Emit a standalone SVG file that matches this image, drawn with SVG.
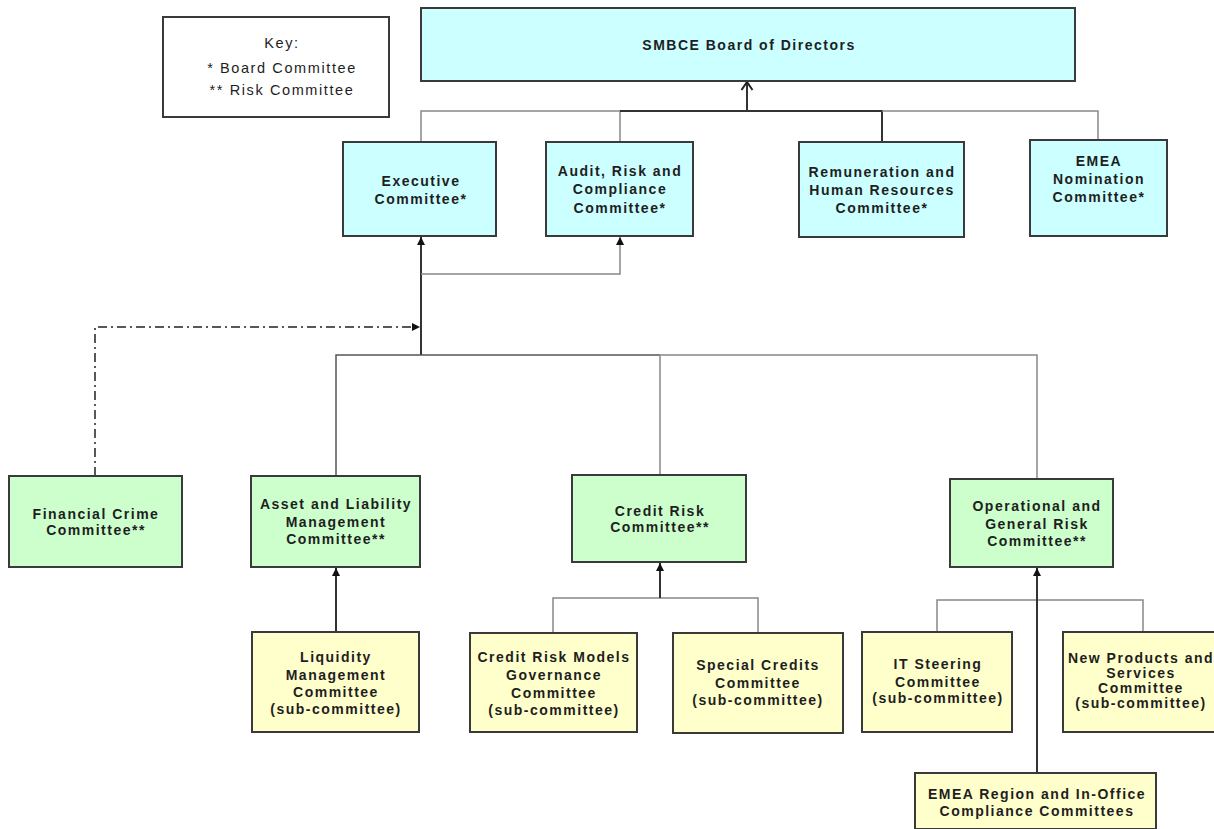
<svg xmlns="http://www.w3.org/2000/svg" width="1214" height="829" viewBox="0 0 1214 829">
<style>
  .box{stroke:#3a3a3a;stroke-width:2}
  .cyan{fill:#CCFFFF}
  .green{fill:#CCFFCC}
  .yellow{fill:#FFFFCC}
  .t{font-family:"Liberation Sans",Arial,sans-serif;font-size:14px;font-weight:bold;fill:#1e1e1e;text-anchor:middle;letter-spacing:1.5px}
  .k{font-family:"Liberation Sans",Arial,sans-serif;font-size:14.5px;fill:#1e1e1e;text-anchor:middle;letter-spacing:1.6px}
  .c{fill:none;stroke:#888;stroke-width:1.5}
  .d{fill:none;stroke:#333;stroke-width:2}
</style>
<defs>
  <marker id="ah" markerUnits="userSpaceOnUse" markerWidth="10" markerHeight="10" refX="8" refY="4" orient="auto">
    <path d="M0,0 L8,4 L0,8 Z" fill="#111"/>
  </marker>
  <marker id="open" markerUnits="userSpaceOnUse" markerWidth="14" markerHeight="14" refX="9" refY="6" orient="auto">
    <path d="M1,0.5 L9,6 L1,11.5" fill="none" stroke="#222" stroke-width="2"/>
  </marker>
</defs>

<g id="connectors">
  <path class="c" d="M421 142 V111 H620 V142"/>
  <path class="d" d="M620 111 H882 V142"/>
  <path class="c" d="M882 111 H1098 V140"/>
  <path class="d" d="M747 111 V82" marker-end="url(#open)"/>
  <path class="d" d="M421 355 V237" marker-end="url(#ah)"/>
  <path class="c" d="M421 274 H620 V237" marker-end="url(#ah)"/>
  <path fill="none" stroke="#222" stroke-width="1.5" stroke-dasharray="9,4,2,4" d="M95 476 V327 H420" marker-end="url(#ah)"/>
  <path fill="none" stroke="#555" stroke-width="1.5" d="M336 476 V355 H660"/>
  <path class="c" d="M660 476 V355 H1037 V479"/>
  <path class="d" d="M336 632 V568" marker-end="url(#ah)"/>
  <path class="c" d="M553 633 V598 H758 V633"/>
  <path class="d" d="M660 598 V563" marker-end="url(#ah)"/>
  <path class="c" d="M937 632 V600 H1143 V632"/>
  <path class="d" d="M1037 773 V568" marker-end="url(#ah)"/>
</g>

<g id="key">
  <rect x="163" y="17" width="226" height="100" fill="#fff" class="box"/>
  <text class="k" x="282" y="48">Key:</text>
  <text class="k" x="282" y="73">* Board Committee</text>
  <text class="k" x="282" y="95">** Risk Committee</text>
</g>

<g id="board">
  <rect x="421" y="8" width="654" height="73" class="box cyan"/>
  <text class="t" x="749" y="50">SMBCE Board of Directors</text>
</g>

<g id="executive">
  <rect x="343" y="142" width="153" height="94" class="box cyan"/>
  <text class="t" x="421" y="186">Executive</text>
  <text class="t" x="421" y="204">Committee*</text>
</g>

<g id="audit">
  <rect x="546" y="142" width="147" height="94" class="box cyan"/>
  <text class="t" x="620" y="176">Audit, Risk and</text>
  <text class="t" x="620" y="194">Compliance</text>
  <text class="t" x="620" y="213">Committee*</text>
</g>

<g id="remuneration">
  <rect x="799" y="142" width="165" height="95" class="box cyan"/>
  <text class="t" x="882" y="177">Remuneration and</text>
  <text class="t" x="882" y="195">Human Resources</text>
  <text class="t" x="882" y="213">Committee*</text>
</g>

<g id="nomination">
  <rect x="1030" y="140" width="137" height="96" class="box cyan"/>
  <text class="t" x="1099" y="166">EMEA</text>
  <text class="t" x="1099" y="184">Nomination</text>
  <text class="t" x="1099" y="202">Committee*</text>
</g>

<g id="financial-crime">
  <rect x="9" y="476" width="173" height="91" class="box green"/>
  <text class="t" x="96" y="519">Financial Crime</text>
  <text class="t" x="96" y="535">Committee**</text>
</g>

<g id="alco">
  <rect x="251" y="476" width="169" height="91" class="box green"/>
  <text class="t" x="336" y="509">Asset and Liability</text>
  <text class="t" x="336" y="527">Management</text>
  <text class="t" x="336" y="544">Committee**</text>
</g>

<g id="credit-risk">
  <rect x="572" y="475" width="174" height="87" class="box green"/>
  <text class="t" x="660" y="516">Credit Risk</text>
  <text class="t" x="660" y="532">Committee**</text>
</g>

<g id="operational">
  <rect x="950" y="479" width="163" height="88" class="box green"/>
  <text class="t" x="1037" y="511">Operational and</text>
  <text class="t" x="1037" y="529">General Risk</text>
  <text class="t" x="1037" y="546">Committee**</text>
</g>

<g id="liquidity">
  <rect x="252" y="632" width="167" height="100" class="box yellow"/>
  <text class="t" x="336" y="662">Liquidity</text>
  <text class="t" x="336" y="680">Management</text>
  <text class="t" x="336" y="697">Committee</text>
  <text class="t" x="336" y="714">(sub-committee)</text>
</g>

<g id="crm-governance">
  <rect x="470" y="633" width="167" height="99" class="box yellow"/>
  <text class="t" x="554" y="662">Credit Risk Models</text>
  <text class="t" x="554" y="680">Governance</text>
  <text class="t" x="554" y="698">Committee</text>
  <text class="t" x="554" y="715">(sub-committee)</text>
</g>

<g id="special-credits">
  <rect x="673" y="633" width="170" height="100" class="box yellow"/>
  <text class="t" x="758" y="670">Special Credits</text>
  <text class="t" x="758" y="688">Committee</text>
  <text class="t" x="758" y="705">(sub-committee)</text>
</g>

<g id="it-steering">
  <rect x="862" y="632" width="150" height="100" class="box yellow"/>
  <text class="t" x="938" y="669">IT Steering</text>
  <text class="t" x="938" y="687">Committee</text>
  <text class="t" x="938" y="703">(sub-committee)</text>
</g>

<g id="new-products">
  <rect x="1063" y="632" width="160" height="100" class="box yellow"/>
  <text class="t" x="1141" y="663">New Products and</text>
  <text class="t" x="1141" y="678">Services</text>
  <text class="t" x="1141" y="693">Committee</text>
  <text class="t" x="1141" y="708">(sub-committee)</text>
</g>

<g id="emea-region">
  <rect x="915" y="773" width="241" height="56" class="box yellow"/>
  <text class="t" x="1037" y="799">EMEA Region and In-Office</text>
  <text class="t" x="1037" y="816">Compliance Committees</text>
</g>
</svg>
